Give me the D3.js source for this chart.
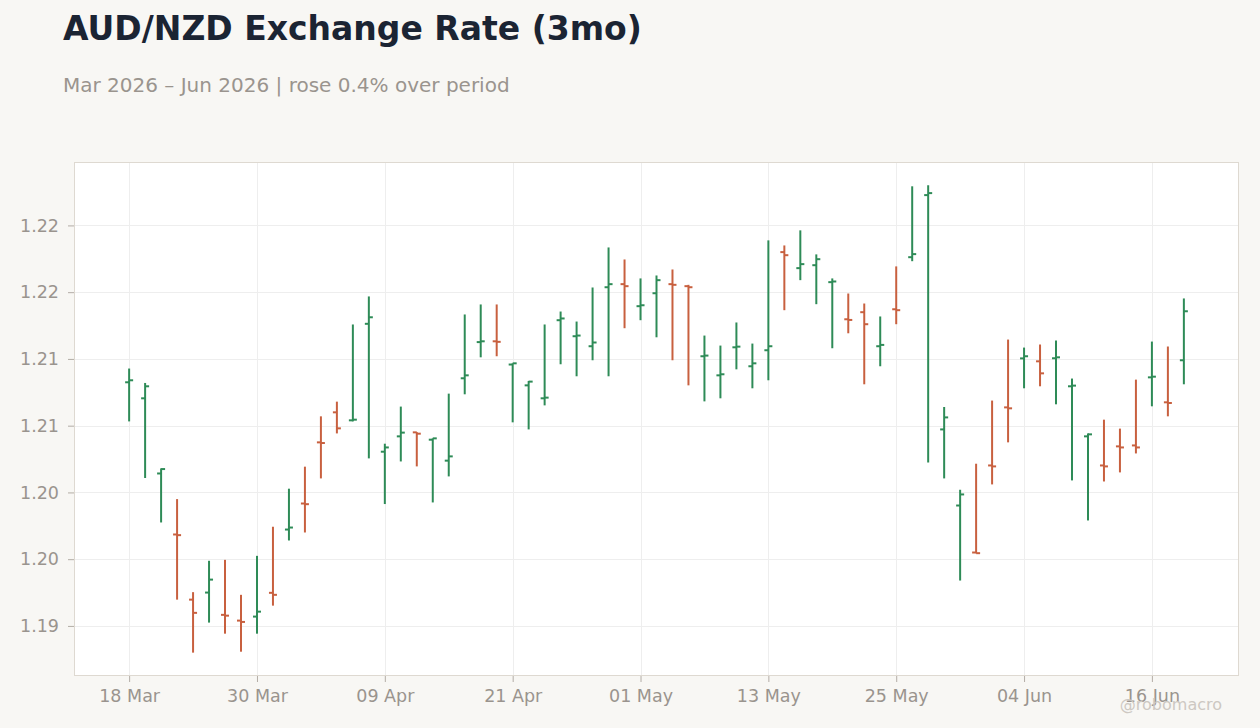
<!DOCTYPE html>
<html>
<head>
    <meta charset="utf-8">
    <title>AUD/NZD Exchange Rate (3mo)</title>
    <script src="https://d3js.org/d3.v7.min.js"></script>
    <style>
        body {
            margin: 0;
            background: #f8f7f4;
        }
        svg {
            display: block;
            font-family: "DejaVu Sans", sans-serif;
        }
        .title {
            font-size: 33px;
            font-weight: bold;
            fill: #1b2433;
        }
        .subtitle {
            font-size: 20px;
            fill: #9a948e;
        }
        .axis text {
            font-family: "DejaVu Sans", sans-serif;
            font-size: 17.5px;
            fill: #9a948e;
        }
        .axis line {
            stroke: #b3ada6;
        }
        .axis .domain {
            display: none;
        }
        .grid line {
            stroke: #eeeeee;
            stroke-width: 1px;
        }
        .watermark {
            font-size: 16px;
            fill: #cdc8c2;
        }
    </style>
</head>
<body>
    <div id="chart"></div>
    <script>
        // trading days shown on the chart
        const dates = [
            "2026-03-18", "2026-03-19", "2026-03-20", "2026-03-23", "2026-03-24", "2026-03-25",
            "2026-03-26", "2026-03-27", "2026-03-30", "2026-03-31", "2026-04-01", "2026-04-02",
            "2026-04-03", "2026-04-06", "2026-04-07", "2026-04-08", "2026-04-09", "2026-04-10",
            "2026-04-13", "2026-04-14", "2026-04-15", "2026-04-16", "2026-04-17", "2026-04-20",
            "2026-04-21", "2026-04-22", "2026-04-23", "2026-04-24", "2026-04-27", "2026-04-28",
            "2026-04-29", "2026-04-30", "2026-05-01", "2026-05-04", "2026-05-05", "2026-05-06",
            "2026-05-07", "2026-05-08", "2026-05-11", "2026-05-12", "2026-05-13", "2026-05-14",
            "2026-05-15", "2026-05-18", "2026-05-19", "2026-05-20", "2026-05-21", "2026-05-22",
            "2026-05-25", "2026-05-26", "2026-05-27", "2026-05-28", "2026-05-29", "2026-06-01",
            "2026-06-02", "2026-06-03", "2026-06-04", "2026-06-05", "2026-06-08", "2026-06-09",
            "2026-06-10", "2026-06-11", "2026-06-12", "2026-06-15", "2026-06-16", "2026-06-17",
            "2026-06-18"
        ];

        const open = [
            1.20825, 1.20705, 1.20142, 1.19685, 1.19197, 1.19250, 1.19083, 1.19040, 1.19070, 1.19248,
            1.19722, 1.19917, 1.20375, 1.20600, 1.20540, 1.21263, 1.20305, 1.20420, 1.20450, 1.20395,
            1.20238, 1.20855, 1.21126, 1.21132, 1.20958, 1.20802, 1.20705, 1.21290, 1.21170, 1.21095,
            1.21537, 1.21560, 1.21395, 1.21492, 1.21560, 1.21545, 1.21020, 1.20877, 1.21087, 1.20945,
            1.21065, 1.21800, 1.21680, 1.21702, 1.21575, 1.21297, 1.21350, 1.21095, 1.21372, 1.21762,
            1.22227, 1.20472, 1.19902, 1.19550, 1.20202, 1.20637, 1.21004, 1.20982, 1.21005, 1.20795,
            1.20420, 1.20202, 1.20345, 1.20352, 1.20862, 1.20675, 1.20990
        ];
        const high = [
            1.20928, 1.20820, 1.20180, 1.19950, 1.19253, 1.19488, 1.19495, 1.19233, 1.19525, 1.19743,
            1.20028, 1.20193, 1.20570, 1.20680, 1.21258, 1.21468, 1.20365, 1.20643, 1.20452, 1.20405,
            1.20740, 1.21333, 1.21408, 1.21408, 1.20967, 1.20835, 1.21258, 1.21355, 1.21280, 1.21535,
            1.21835, 1.21745, 1.21603, 1.21625, 1.21670, 1.21555, 1.21175, 1.21100, 1.21273, 1.21115,
            1.21888, 1.21850, 1.21963, 1.21783, 1.21603, 1.21490, 1.21415, 1.21318, 1.21693, 1.22293,
            1.22300, 1.20640, 1.20020, 1.20215, 1.20688, 1.21145, 1.21085, 1.21108, 1.21138, 1.20853,
            1.20442, 1.20545, 1.20478, 1.20845, 1.21130, 1.21093, 1.21453
        ];
        const low = [
            1.20532, 1.20108, 1.19775, 1.19197, 1.18800, 1.19025, 1.18942, 1.18807, 1.18942, 1.19152,
            1.19640, 1.19700, 1.20105, 1.20442, 1.20532, 1.20255, 1.19913, 1.20232, 1.20195, 1.19925,
            1.20120, 1.20735, 1.21012, 1.21020, 1.20525, 1.20472, 1.20652, 1.20960, 1.20870, 1.20990,
            1.20870, 1.21230, 1.21290, 1.21162, 1.20990, 1.20802, 1.20682, 1.20705, 1.20922, 1.20780,
            1.20840, 1.21365, 1.21590, 1.21410, 1.21080, 1.21192, 1.20810, 1.20945, 1.21260, 1.21732,
            1.20225, 1.20105, 1.19340, 1.19545, 1.20060, 1.20375, 1.20780, 1.20795, 1.20660, 1.20090,
            1.19790, 1.20082, 1.20150, 1.20292, 1.20645, 1.20570, 1.20810
        ];
        const close = [
            1.20840, 1.20795, 1.20175, 1.19680, 1.19098, 1.19347, 1.19077, 1.19030, 1.19107, 1.19233,
            1.19737, 1.19912, 1.20370, 1.20480, 1.20545, 1.21312, 1.20337, 1.20448, 1.20440, 1.20405,
            1.20270, 1.20877, 1.21132, 1.21128, 1.20967, 1.20830, 1.20710, 1.21303, 1.21175, 1.21123,
            1.21560, 1.21545, 1.21402, 1.21590, 1.21555, 1.21537, 1.21025, 1.20885, 1.21092, 1.20967,
            1.21095, 1.21777, 1.21710, 1.21747, 1.21580, 1.21292, 1.21260, 1.21105, 1.21365, 1.21785,
            1.22242, 1.20562, 1.19985, 1.19545, 1.20195, 1.20630, 1.21020, 1.20892, 1.21012, 1.20800,
            1.20435, 1.20195, 1.20337, 1.20337, 1.20867, 1.20670, 1.21357
        ];

        const tickDates = ["2026-03-18", "2026-03-30", "2026-04-09", "2026-04-21", "2026-05-01",
            "2026-05-13", "2026-05-25", "2026-06-04", "2026-06-16"];
        const yTicks = [1.19, 1.195, 1.20, 1.205, 1.21, 1.215, 1.22];
        const yTickLabels = ["1.19", "1.20", "1.20", "1.21", "1.21", "1.22", "1.22"];

        const width = 1260;
        const height = 728;
        const plot = { left: 74, right: 1239, top: 162, bottom: 676 };
        const upColor = "#2e8b57";
        const downColor = "#c8603f";

        const svg = d3.select("#chart")
            .append("svg")
            .attr("width", width)
            .attr("height", height);

        const parse = d3.timeParse("%Y-%m-%d");
        const fmt = d3.timeFormat("%d %b");

        const bars = dates.map((d, i) => ({
            date: d, o: open[i], h: high[i], l: low[i], c: close[i]
        }));

        const x = d3.scalePoint()
            .domain(dates)
            .range([plot.left, plot.right])
            .padding(3.45);

        const lo = d3.min(low), hi = d3.max(high);
        const pad = (hi - lo) * 0.05;
        const y = d3.scaleLinear()
            .domain([lo - pad, hi + pad])
            .range([plot.bottom, plot.top]);

        // title block
        svg.append("text")
            .attr("class", "title")
            .attr("x", 63)
            .attr("y", 40)
            .text("AUD/NZD Exchange Rate (3mo)");

        svg.append("text")
            .attr("class", "subtitle")
            .attr("x", 63)
            .attr("y", 92)
            .text("Mar 2026 \u2013 Jun 2026 | rose 0.4% over period");

        // plot background
        svg.append("rect")
            .attr("x", plot.left + 0.5)
            .attr("y", plot.top + 0.5)
            .attr("width", plot.right - plot.left - 1)
            .attr("height", plot.bottom - plot.top - 1)
            .attr("fill", "#ffffff");

        // grid
        const grid = svg.append("g").attr("class", "grid");
        grid.selectAll(".gy")
            .data(yTicks)
            .enter().append("line")
            .attr("x1", plot.left)
            .attr("x2", plot.right)
            .attr("y1", d => Math.round(y(d)) + 0.5)
            .attr("y2", d => Math.round(y(d)) + 0.5);
        grid.selectAll(".gx")
            .data(tickDates)
            .enter().append("line")
            .attr("y1", plot.top)
            .attr("y2", plot.bottom)
            .attr("x1", d => Math.round(x(d)) + 0.5)
            .attr("x2", d => Math.round(x(d)) + 0.5);

        // border
        svg.append("rect")
            .attr("x", plot.left + 0.5)
            .attr("y", plot.top + 0.5)
            .attr("width", plot.right - plot.left - 1)
            .attr("height", plot.bottom - plot.top - 1)
            .attr("fill", "none")
            .attr("stroke", "#ded9d1")
            .attr("stroke-width", 1);

        // axes
        svg.append("g")
            .attr("class", "axis")
            .attr("transform", `translate(0,${plot.bottom})`)
            .call(d3.axisBottom(x)
                .tickValues(tickDates)
                .tickSize(6)
                .tickPadding(8)
                .tickFormat(d => fmt(parse(d))));

        svg.append("g")
            .attr("class", "axis")
            .attr("transform", `translate(${plot.left},0)`)
            .call(d3.axisLeft(y)
                .tickValues(yTicks)
                .tickSize(6)
                .tickPadding(9)
                .tickFormat((d, i) => yTickLabels[i]));

        // OHLC bars
        const g = svg.append("g")
            .selectAll("g")
            .data(bars)
            .enter()
            .append("g")
            .attr("stroke", d => d.c >= d.o ? upColor : downColor)
            .attr("stroke-width", 2);

        g.append("line")
            .attr("x1", d => x(d.date))
            .attr("x2", d => x(d.date))
            .attr("y1", d => y(d.h))
            .attr("y2", d => y(d.l));

        g.append("line")
            .attr("x1", d => x(d.date) - 4)
            .attr("x2", d => x(d.date))
            .attr("y1", d => y(d.o))
            .attr("y2", d => y(d.o));

        g.append("line")
            .attr("x1", d => x(d.date))
            .attr("x2", d => x(d.date) + 4)
            .attr("y1", d => y(d.c))
            .attr("y2", d => y(d.c));

        svg.append("text")
            .attr("class", "watermark")
            .attr("x", 1222)
            .attr("y", 710)
            .attr("text-anchor", "end")
            .text("@robomacro");
    </script>
</body>
</html>
